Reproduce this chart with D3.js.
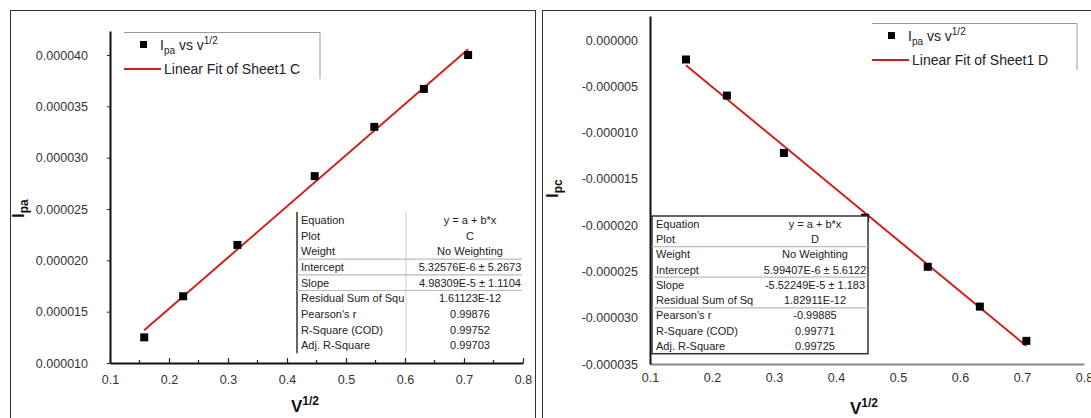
<!DOCTYPE html>
<html>
<head>
<meta charset="utf-8">
<script src="https://cdn.jsdelivr.net/npm/d3@7"></script>
<style>
  body { margin: 0; background: #fff; }
  svg { display: block; font-family: "Liberation Sans", Arial, sans-serif; }
</style>
</head>
<body>
<svg width="1091" height="418"></svg>
<script>
// dati
const vHalf = [0.158, 0.224, 0.316, 0.447, 0.548, 0.632, 0.707];
const ipa = [1.25e-5, 1.65e-5, 2.15e-5, 2.82e-5, 3.30e-5, 3.67e-5, 4.00e-5];
const ipc = [-2.1e-6, -6.0e-6, -1.22e-5, -1.92e-5, -2.45e-5, -2.88e-5, -3.25e-5];

// parametri del fit lineare (y = a + b*x)
const fitC = [5.32576e-6, 4.98309e-5];
const fitD = [5.99407e-6, -5.52249e-5];

const xTicks = [0.1, 0.2, 0.3, 0.4, 0.5, 0.6, 0.7, 0.8];
const yTicksC = [0.000010, 0.000015, 0.000020, 0.000025, 0.000030, 0.000035, 0.000040];
const yTicksD = [0, -0.000005, -0.000010, -0.000015, -0.000020, -0.000025, -0.000030, -0.000035];

const tableLabelsC = ["Equation", "Plot", "Weight", "Intercept", "Slope", "Residual Sum of Squ", "Pearson's r", "R-Square (COD)", "Adj. R-Square"];
const tableValuesC = ["y = a + b*x", "C", "No Weighting", "5.32576E-6 \u00b1 5.2673", "4.98309E-5 \u00b1 1.1104", "1.61123E-12", "0.99876", "0.99752", "0.99703"];
const tableLabelsD = ["Equation", "Plot", "Weight", "Intercept", "Slope", "Residual Sum of Sq", "Pearson's r", "R-Square (COD)", "Adj. R-Square"];
const tableValuesD = ["y = a + b*x", "D", "No Weighting", "5.99407E-6 \u00b1 5.6122", "-5.52249E-5 \u00b1 1.183", "1.82911E-12", "-0.99885", "0.99771", "0.99725"];

const svg = d3.select("svg");
const fmt = v => d3.format(".6f")(v).replace("\u2212", "-");
const red = "#d01f1f";

// cornici dei due pannelli
svg.append("rect").attr("x", 10.5).attr("y", 10.5).attr("width", 525).attr("height", 420)
  .attr("fill", "none").attr("stroke", "#333").attr("stroke-width", 1);
svg.append("rect").attr("x", 542.5).attr("y", 10.5).attr("width", 560).attr("height", 420)
  .attr("fill", "none").attr("stroke", "#333").attr("stroke-width", 1);

function midpoints(arr) {
  const out = [];
  for (let i = 0; i < arr.length - 1; i++) out.push((arr[i] + arr[i + 1]) / 2);
  return out;
}

function drawPanel(opt) {
  const g = svg.append("g");
  const x = d3.scaleLinear().domain([0.1, 0.8]).range(opt.xRange);
  const y = d3.scaleLinear().domain(opt.yDomain).range(opt.yRange);

  // asse x
  const xAxis = g.append("g").attr("transform", `translate(0,${opt.yRange[0]})`)
    .call(d3.axisBottom(x).tickValues(xTicks).tickFormat(d3.format(".1f"))
      .tickSizeInner(opt.xTickIn ? -5 : 0).tickSizeOuter(0).tickPadding(opt.xTickIn ? 12 : 9));
  xAxis.select(".domain").attr("stroke", opt.xAxisColor).attr("stroke-width", 2);
  xAxis.selectAll(".tick line").attr("stroke", "#222").attr("stroke-width", 1.2);
  xAxis.selectAll("text").attr("font-size", 12.5).attr("fill", "#333");
  if (opt.xTickIn) {
    g.append("g").selectAll("line").data(midpoints(xTicks)).join("line")
      .attr("x1", d => x(d)).attr("x2", d => x(d))
      .attr("y1", opt.yRange[0]).attr("y2", opt.yRange[0] - 3)
      .attr("stroke", "#222").attr("stroke-width", 1.2);
  }

  // asse y
  const yAxis = g.append("g").attr("transform", `translate(${opt.xRange[0]},0)`)
    .call(d3.axisLeft(y).tickValues(opt.yTicks).tickFormat(fmt)
      .tickSizeInner(opt.yTickOut ? 3 : 0).tickSizeOuter(0).tickPadding(opt.yPad));
  yAxis.select(".domain").attr("stroke", "#111").attr("stroke-width", 2);
  yAxis.selectAll(".tick line").attr("stroke", "#222");
  yAxis.selectAll("text").attr("font-size", 12.5).attr("fill", "#333");

  // retta di fit
  const xs = d3.extent(vHalf);
  g.append("line")
    .attr("x1", x(xs[0])).attr("y1", y(opt.fit[0] + opt.fit[1] * xs[0]))
    .attr("x2", x(xs[1])).attr("y2", y(opt.fit[0] + opt.fit[1] * xs[1]))
    .attr("stroke", red).attr("stroke-width", 2);

  // punti
  g.append("g").selectAll("rect").data(vHalf).join("rect")
    .attr("x", (d) => x(d) - 4).attr("y", (d, i) => y(opt.values[i]) - 4)
    .attr("width", 8).attr("height", 8).attr("fill", "#000");

  // titoli degli assi
  const yt = g.append("text")
    .attr("transform", `translate(${opt.yTitle[0]},${opt.yTitle[1]}) rotate(-90)`)
    .attr("font-size", 17).attr("font-weight", "bold").attr("fill", "#111");
  yt.append("tspan").text("I");
  yt.append("tspan").attr("dy", 4).attr("font-size", 12).text(opt.ySub);

  const xt = g.append("text").attr("x", opt.xTitle[0]).attr("y", opt.xTitle[1])
    .attr("text-anchor", "middle").attr("font-size", 17).attr("font-weight", "bold").attr("fill", "#111");
  xt.append("tspan").text("V");
  xt.append("tspan").attr("dy", -7).attr("font-size", 12).text("1/2");

  // legenda
  const lg = g.append("g").attr("transform", `translate(${opt.legend[0]},${opt.legend[1]})`);
  lg.append("path").attr("d", `M0,0.5H${opt.legend[2]}V47`).attr("fill", "none")
    .attr("stroke", "#999").attr("stroke-width", 1);
  lg.append("rect").attr("x", 16).attr("y", 9).attr("width", 7).attr("height", 7).attr("fill", "#000");
  const lt = lg.append("text").attr("x", 36).attr("y", 18).attr("font-size", 14).attr("fill", "#222");
  lt.append("tspan").text("I");
  lt.append("tspan").attr("dy", 4).attr("font-size", 10).text("pa");
  lt.append("tspan").attr("dy", -4).text(" vs v");
  lt.append("tspan").attr("dy", -6).attr("font-size", 10).text("1/2");
  lg.append("line").attr("x1", 0).attr("x2", 37).attr("y1", 37).attr("y2", 37)
    .attr("stroke", red).attr("stroke-width", 2);
  lg.append("text").attr("x", 40).attr("y", 42).attr("font-size", 14).attr("fill", "#222")
    .text(opt.fitName);

  // tabella dei risultati
  const t = opt.table;
  const tb = g.append("g").attr("transform", `translate(${t.x},${t.y})`);
  const rowH = t.rowH;
  const totalH = rowH * opt.labels.length;
  tb.append("rect").attr("width", t.w).attr("height", totalH).attr("fill", "#fff")
    .attr("stroke", t.boxed ? "#333" : "none").attr("stroke-width", 1.5);
  if (!t.boxed) {
    tb.append("line").attr("x1", 0).attr("x2", 0).attr("y1", 0).attr("y2", totalH)
      .attr("stroke", "#333").attr("stroke-width", 1.5);
    tb.append("line").attr("x1", t.col).attr("x2", t.col).attr("y1", 0).attr("y2", totalH)
      .attr("stroke", "#ccc");
  }
  tb.selectAll("line.sep").data(t.seps).join("line").attr("class", "sep")
    .attr("x1", 0).attr("x2", t.w).attr("y1", d => d * rowH).attr("y2", d => d * rowH)
    .attr("stroke", "#bbb").attr("stroke-width", 1.2);
  tb.selectAll("text.lab").data(opt.labels).join("text").attr("class", "lab")
    .attr("x", 4).attr("y", (d, i) => i * rowH + rowH / 2 + 4)
    .attr("font-size", 11).attr("fill", "#222").text(d => d);
  tb.selectAll("text.val").data(opt.tableValues).join("text").attr("class", "val")
    .attr("x", t.valX).attr("y", (d, i) => i * rowH + rowH / 2 + 4)
    .attr("text-anchor", "middle").attr("font-size", 11).attr("fill", "#222").text(d => d);
}

drawPanel({
  xRange: [110, 523], yDomain: [1e-5, 4.234e-5], yRange: [363, 31],
  yTicks: yTicksC, values: ipa, fit: fitC, yPad: 19,
  xAxisColor: "#111", xTickIn: true, yTickOut: true,
  yTitle: [24, 218], ySub: "pa", xTitle: [305, 412],
  legend: [124, 32, 196], fitName: "Linear Fit of Sheet1 C",
  labels: tableLabelsC, tableValues: tableValuesC,
  table: { x: 297, y: 212, w: 225, rowH: 15.7, col: 109, valX: 173, seps: [3, 4, 5], boxed: false }
});

drawPanel({
  xRange: [650, 1084], yDomain: [-3.5e-5, 2.6e-6], yRange: [364, 16],
  yTicks: yTicksD, values: ipc, fit: fitD, yPad: 12,
  xAxisColor: "#888", xTickIn: false, yTickOut: false,
  yTitle: [558, 198], ySub: "pc", xTitle: [864, 414],
  legend: [872, 23, 205], fitName: "Linear Fit of Sheet1 D",
  labels: tableLabelsD, tableValues: tableValuesD,
  table: { x: 652, y: 216, w: 216, rowH: 15.3, col: 0, valX: 163, seps: [2, 4, 6], boxed: true }
});
</script>
</body>
</html>
